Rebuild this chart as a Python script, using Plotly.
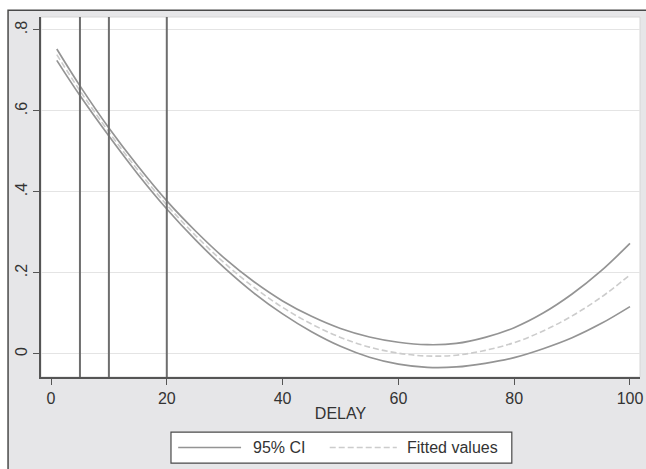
import plotly.graph_objects as go

# Data
delay = [1, 5, 10, 15, 20, 25, 30, 35, 40, 45, 50, 55, 60, 65, 70, 75, 80, 85, 90, 95, 100]
fitted = [0.739, 0.650, 0.548, 0.454, 0.368, 0.292, 0.224, 0.165, 0.115, 0.074, 0.041,
          0.017, 0.002, -0.005, -0.003, 0.009, 0.028, 0.057, 0.094, 0.140, 0.195]
ci_upper = [0.753, 0.662, 0.558, 0.464, 0.378, 0.303, 0.236, 0.179, 0.131, 0.093, 0.063,
            0.042, 0.029, 0.023, 0.026, 0.041, 0.065, 0.101, 0.148, 0.205, 0.273]
ci_lower = [0.725, 0.638, 0.538, 0.444, 0.358, 0.281, 0.212, 0.151, 0.099, 0.055, 0.019,
            -0.008, -0.025, -0.033, -0.032, -0.023, -0.009, 0.013, 0.040, 0.075, 0.117]
vline_x = [5, 10, 20]
x_ticks = [0, 20, 40, 60, 80, 100]
y_ticks = [0, 0.2, 0.4, 0.6, 0.8]
y_tick_labels = ["0", ".2", ".4", ".6", ".8"]
legend_labels = ["95% CI", "Fitted values"]

FONT = "Liberation Sans, Arial, sans-serif"
BG = "#e6e6e8"
CI_COLOR = "#949494"
FIT_COLOR = "#cccccc"
VLINE_COLOR = "#6e6e6e"

fig = go.Figure()

fig.add_trace(go.Scatter(x=delay, y=ci_upper, mode="lines", line=dict(color=CI_COLOR, width=1.7, shape="spline"),
                         name=legend_labels[0], showlegend=False))
fig.add_trace(go.Scatter(x=delay, y=ci_lower, mode="lines", line=dict(color=CI_COLOR, width=1.7, shape="spline"),
                         name=legend_labels[0], showlegend=False))
fig.add_trace(go.Scatter(x=delay, y=fitted, mode="lines",
                         line=dict(color=FIT_COLOR, width=1.6, dash="6px,3px", shape="spline"),
                         name=legend_labels[1], showlegend=False))

shapes = []
# outer frame with gray fill
shapes.append(dict(type="rect", xref="paper", yref="paper", x0=-0.055, x1=1.2, y0=-0.4, y1=1.019,
                   fillcolor=BG, line=dict(color="#4a4a4a", width=1.5), layer="below"))
# white plot area
shapes.append(dict(type="rect", xref="paper", yref="paper", x0=0, x1=1, y0=0, y1=1,
                   fillcolor="white", line=dict(color="#d6d6d6", width=1), layer="below"))
for v in vline_x:
    shapes.append(dict(type="line", xref="x", yref="paper", x0=v, x1=v, y0=0, y1=1,
                       line=dict(color=VLINE_COLOR, width=2), layer="above"))

# legend box (manual)
lx0, lx1, ly0, ly1 = 0.217, 0.786, -0.239, -0.153
lyc = (ly0 + ly1) / 2
shapes.append(dict(type="rect", xref="paper", yref="paper", x0=lx0, x1=lx1, y0=ly0, y1=ly1,
                   fillcolor="white", line=dict(color="#4a4a4a", width=1.2)))
shapes.append(dict(type="line", xref="paper", yref="paper", x0=0.229, x1=0.334, y0=lyc, y1=lyc,
                   line=dict(color=CI_COLOR, width=1.6)))
shapes.append(dict(type="line", xref="paper", yref="paper", x0=0.482, x1=0.594, y0=lyc, y1=lyc,
                   line=dict(color=FIT_COLOR, width=1.6, dash="6px,3px")))

annotations = [
    dict(text=legend_labels[0], xref="paper", yref="paper", x=0.350, y=lyc, xanchor="left", yanchor="middle",
         showarrow=False, font=dict(family=FONT, size=16, color="#333333")),
    dict(text=legend_labels[1], xref="paper", yref="paper", x=0.607, y=lyc, xanchor="left", yanchor="middle",
         showarrow=False, font=dict(family=FONT, size=16, color="#333333")),
]

fig.update_layout(
    width=646, height=469,
    margin=dict(l=41, r=6, t=17, b=92, autoexpand=False),
    paper_bgcolor="white",
    plot_bgcolor="rgba(0,0,0,0)",
    shapes=shapes,
    annotations=annotations,
    showlegend=False,
    font=dict(family=FONT, color="#333333"),
    xaxis=dict(range=[-1.727, 101.73], tickvals=x_ticks, ticks="outside", ticklen=6, tickwidth=1.2,
               tickcolor="#555555", showgrid=False, zeroline=False, showline=True, linecolor="#555555",
               linewidth=1.5, tickfont=dict(size=16, color="#333333"), automargin=False,
               title=dict(text="DELAY", font=dict(size=16, color="#333333"), standoff=2)),
    yaxis=dict(range=[-0.0568, 0.832], tickvals=y_ticks, ticktext=y_tick_labels, ticks="outside",
               ticklen=6, tickwidth=1.2, tickcolor="#555555", tickangle=-90, automargin=False,
               showgrid=True, gridcolor="#e4e4e4", gridwidth=1.2, zeroline=False,
               showline=True, linecolor="#555555", linewidth=1.5,
               tickfont=dict(size=16, color="#333333")),
)

fig.write_html(
    "out.html",
    config={"displayModeBar": False},
    post_script="document.body.style.margin='0';document.body.style.overflow='hidden';"
                "document.documentElement.style.overflow='hidden';",
)
